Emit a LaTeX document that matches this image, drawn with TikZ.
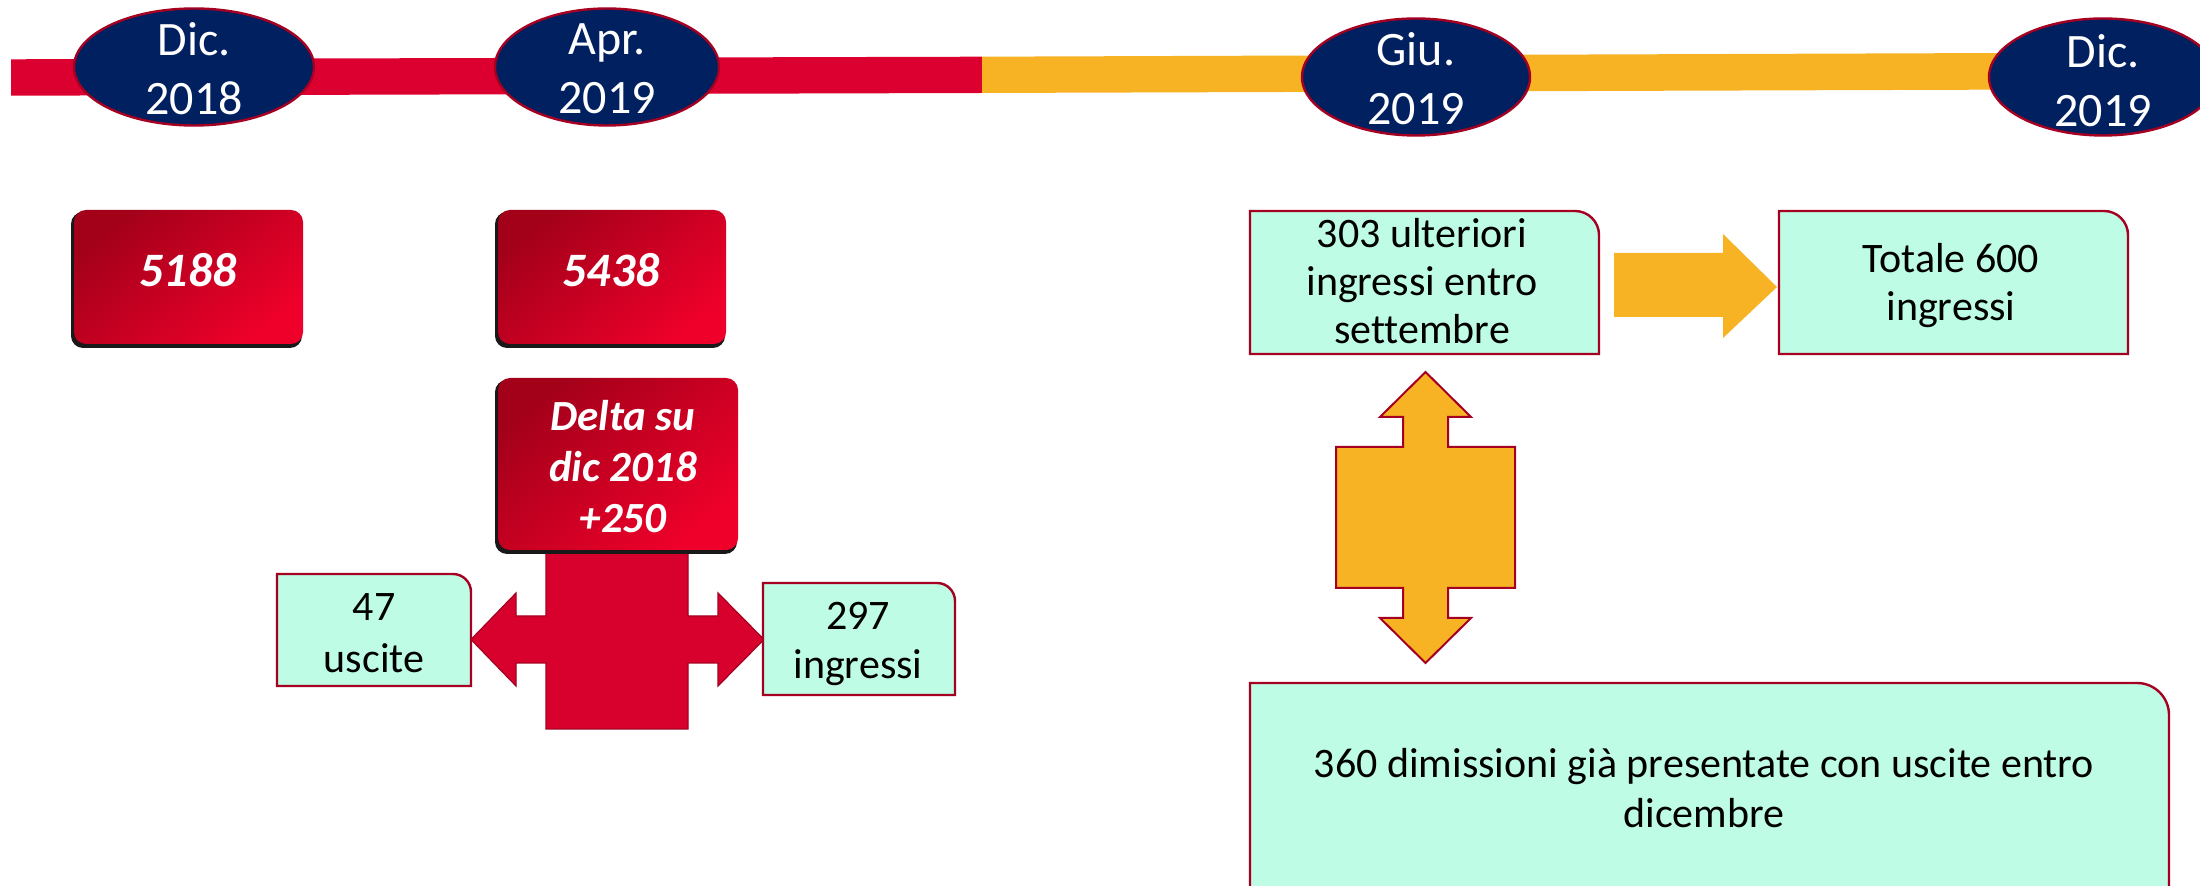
\documentclass[tikz,border=0pt]{standalone}
\usepackage{fontspec}
\setmainfont{Carlito}[Ligatures=NoCommon]
\usetikzlibrary{shapes.geometric}
\definecolor{navy}{HTML}{002060}
\definecolor{bordo}{HTML}{A50021}
\definecolor{barred}{HTML}{DC0030}
\definecolor{crossred}{HTML}{D8002C}
\definecolor{amber}{HTML}{F7B324}
\definecolor{mint}{HTML}{BEFCE6}
\definecolor{rdark}{HTML}{A3001A}
\definecolor{rlight}{HTML}{EE002A}
\newcommand\fdate{\fontsize{24}{29.5}\selectfont}
\newcommand\fred{\bfseries\itshape\fontsize{24}{25.5}\selectfont}
\newcommand\fdelta{\bfseries\itshape\fontsize{21.5}{25.5}\selectfont}
\newcommand\fmint[1]{\fontsize{21}{#1}\selectfont}
% name x1 y1 x2 y2 r
\newcommand\mintbox[6]{%
  \draw[mintshape] (#2,#3) -- ({#4-#6},#3) .. controls ({#4-0.448*#6},#3) and (#4,{#3+0.448*#6}) .. (#4,{#3+#6}) -- (#4,#5) -- (#2,#5) -- cycle;
  \coordinate (#1) at ({(#2+#4)/2},{(#3+#5)/2});
}
% name x1 y1 x2 y2
\newcommand\redbox[5]{%
  \fill[black!90, rounded corners=6pt] ({#2-3},{#3+2}) rectangle ({#4-1},{#5+4});
  \shade[rounded corners=6pt, top color=rdark, bottom color=rlight, shading angle=40] (#2,#3) rectangle (#4,#5);
  \coordinate (#1) at ({(#2+#4)/2},{(#3+#5)/2});
}
\begin{document}
\begin{tikzpicture}[x=0.5pt,y=-0.5pt,
  dateell/.style={ellipse, draw=bordo, line width=1.2pt, fill=navy, minimum height=58.5pt, inner sep=0pt},
  datetxt/.style={text=white, align=center, inner sep=0pt, font=\fdate},
  redtxt/.style={text=white, align=center, inner sep=0pt, font=\fred},
  mintshape/.style={draw=bordo, line width=1.2pt, fill=mint},
  minttxt/.style={text=black, align=center, inner sep=0pt, font=\fmint{#1}},
  minttxt/.default=24.5pt,
  crossshape/.style={fill=crossred, draw=bordo, line width=0.6pt},
  ambershape/.style={fill=amber, draw=bordo, line width=1pt}]
\useasboundingbox (0,0) rectangle (2200,886);
\fill[white] (0,0) rectangle (2200,886);
% timeline
\fill[barred] (11,59.3) -- (982,56.7) -- (982,93) -- (11,95.7) -- cycle;
\fill[amber] (982,56.7) -- (2200,52.3) -- (2200,89) -- (982,93) -- cycle;
% dates
\node[dateell, minimum width=120pt] (e1) at (194,67) {};
\node[datetxt] (l1) at (194,69) {Dic.\\2018};
\node[dateell, minimum width=112pt] (e2) at (607,67) {};
\node[datetxt] (l2) at (607,69) {Apr.\\2019};
\node[dateell, minimum width=114pt] (e3) at (1416,77) {};
\node[datetxt] (l3) at (1416,79) {Giu.\\2019};
\node[dateell, minimum width=114pt] (e4) at (2103,77) {};
\node[datetxt] (l4) at (2103,81) {Dic.\\2019};
% red boxes
\redbox{r1}{74}{210}{303}{344}
\node[redtxt] (t1) at (188,270) {5188};
\redbox{r2}{498}{210}{726}{344}
\node[redtxt] (t2) at (611,270) {5438};
% red cross
\draw[crossshape] (546,548) -- (688,548) -- (688,616) -- (718,616) -- (718,593) -- (764,639.5) -- (718,686) -- (718,663) -- (688,663) -- (688,729) -- (546,729) -- (546,663) -- (516,663) -- (516,686) -- (471,639.5) -- (516,593) -- (516,616) -- (546,616) -- cycle;
\redbox{r3}{498}{378}{738}{550}
\node[redtxt, font=\fdelta] (t3) at (623,467) {Delta su\\dic 2018\\+250};
% mint boxes left
\mintbox{m1}{277}{574}{471}{686}{18}
\node[minttxt=26pt] (tm1) at (374,633) {47\\uscite};
\mintbox{m2}{763}{583}{955}{695}{18}
\node[minttxt=24.5pt] (tm2) at (858,644) {297\\ingressi};
% right side
\mintbox{m3}{1250}{211}{1599}{354}{24}
\node[minttxt=24pt] (tm3) at (1422,281) {303 ulteriori\\ingressi entro\\settembre};
\fill[amber] (1614,253) -- (1723,253) -- (1723,234) -- (1777,287) -- (1723,338) -- (1723,317) -- (1614,317) -- cycle;
\mintbox{m4}{1779}{211}{2128}{354}{24}
\node[minttxt=24pt] (tm4) at (1951,286) {Totale 600\\ingressi};
\draw[ambershape] (1425.5,372) -- (1471,417) -- (1448,417) -- (1448,447) -- (1515,447) -- (1515,588) -- (1448,588) -- (1448,618) -- (1471,618) -- (1425.5,663) -- (1380,618) -- (1403,618) -- (1403,588) -- (1336,588) -- (1336,447) -- (1403,447) -- (1403,417) -- (1380,417) -- cycle;
\mintbox{m5}{1250}{683}{2169}{900}{32}
\node[minttxt=25pt] (tm5) at (1704,788) {360 dimissioni già presentate con uscite entro\\dicembre};
\end{tikzpicture}
\end{document}
